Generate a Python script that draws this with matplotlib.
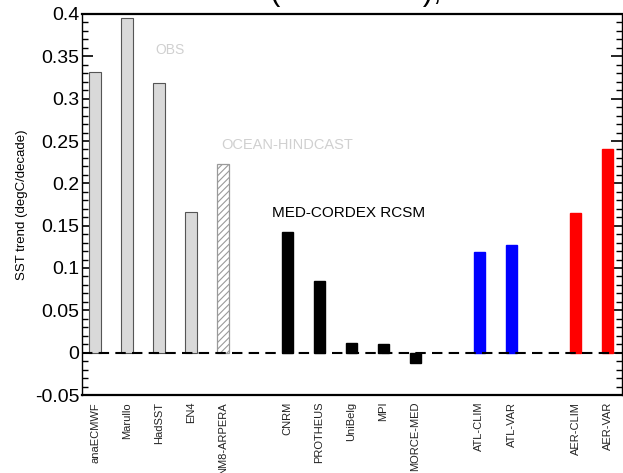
import matplotlib
matplotlib.use("Agg")
import matplotlib.pyplot as plt
from matplotlib.ticker import MultipleLocator

plt.rcParams["font.family"] = ["Liberation Sans", "DejaVu Sans"]
plt.rcParams["hatch.linewidth"] = 0.8

# ---- data ----
obs_names = ["anaECMWF", "Marullo", "HadSST", "EN4"]
obs_vals = [0.331, 0.395, 0.318, 0.166]
hind_names = ["NM8-ARPERA"]
hind_vals = [0.223]
rcsm_names = ["CNRM", "PROTHEUS", "UniBelg", "MPI", "MORCE-MED"]
rcsm_vals = [0.142, 0.085, 0.012, 0.010, -0.012]
atl_names = ["ATL-CLIM", "ATL-VAR"]
atl_vals = [0.119, 0.127]
aer_names = ["AER-CLIM", "AER-VAR"]
aer_vals = [0.165, 0.241]

# slot positions (gaps between groups)
obs_x = [0, 1, 2, 3]
hind_x = [4]
rcsm_x = [6, 7, 8, 9, 10]
atl_x = [12, 13]
aer_x = [15, 16]


def main():
    fig = plt.figure(figsize=(6.23, 4.73), dpi=100)
    ax = fig.add_axes([82 / 623, 1 - 395 / 473, 540 / 623, 381 / 473])

    w = 0.36
    ax.bar(obs_x, obs_vals, width=w, color="#d9d9d9", edgecolor="#555555", linewidth=0.8, zorder=2)
    ax.bar(hind_x, hind_vals, width=w, color="white", edgecolor="#9a9a9a", hatch="/////",
           linewidth=0.9, zorder=2)
    ax.bar(rcsm_x, rcsm_vals, width=w, color="black", edgecolor="black", zorder=2)
    ax.bar(atl_x, atl_vals, width=w, color="#0000ff", edgecolor="#0000ff", zorder=2)
    ax.bar(aer_x, aer_vals, width=w, color="#ff0000", edgecolor="#ff0000", zorder=2)

    ax.axhline(0, color="black", linestyle=(0, (5, 3)), linewidth=1.5, zorder=3)

    ax.set_xlim(-0.41, 16.45)
    ax.set_ylim(-0.05, 0.4)

    ax.set_xticks(obs_x + hind_x + rcsm_x + atl_x + aer_x)
    ax.set_xticklabels(obs_names + hind_names + rcsm_names + atl_names + aer_names,
                       rotation=90, fontsize=8, color="#222222")
    ax.tick_params(axis="x", length=0, pad=5)

    ax.yaxis.set_major_locator(MultipleLocator(0.05))
    ax.yaxis.set_minor_locator(MultipleLocator(0.01))
    ax.set_yticks([-0.05, 0, 0.05, 0.1, 0.15, 0.2, 0.25, 0.3, 0.35, 0.4])
    ax.set_yticklabels(["-0.05", "0", "0.05", "0.1", "0.15", "0.2", "0.25", "0.3", "0.35", "0.4"])
    ax.tick_params(axis="y", which="major", direction="in", length=8, width=1.2,
                   labelsize=14, left=True, right=True, pad=2)
    ax.tick_params(axis="y", which="minor", direction="in", length=4, width=1.0,
                   left=True, right=True)

    for s in ["top", "bottom"]:
        ax.spines[s].set_linewidth(1.6)
    for s in ["left", "right"]:
        ax.spines[s].set_linewidth(1.0)

    ax.set_ylabel("SST trend (degC/decade)", fontsize=9.5)
    ax.yaxis.set_label_coords(-0.10, 0.5)

    ax.text(2.34, 0.357, "OBS", fontsize=10, color="#d0d0d0", ha="center", va="center")
    ax.text(6.0, 0.245, "OCEAN-HINDCAST", fontsize=10.5, color="#d0d0d0", ha="center", va="center")
    ax.text(7.9, 0.165, "MED-CORDEX RCSM", fontsize=11, color="black", ha="center", va="center")

    # title of the original figure, almost completely cut off at the top edge
    fig.text(0.51, 1 + 0.5 / 473, "Mean SST trend (\u00b0C/decade), 1980-2012",
             fontsize=22, ha="center", va="baseline")

    fig.savefig("out.png", dpi=100)


if __name__ == "__main__":
    main()
